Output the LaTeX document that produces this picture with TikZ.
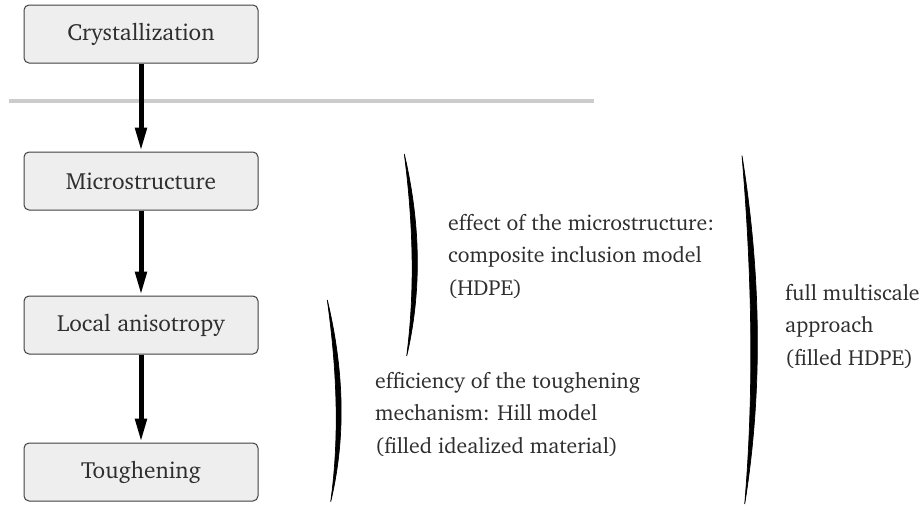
\documentclass[tikz,border=0pt]{standalone}
\usepackage[T1]{fontenc}
\usepackage{charter}
\usetikzlibrary{arrows.meta}
\definecolor{boxfill}{HTML}{EEEEEE}
\definecolor{boxline}{HTML}{404040}
\definecolor{rulegray}{HTML}{CCCCCC}
\definecolor{txt}{HTML}{2E2E2E}
\newcommand{\myparen}[6]{%
  \filldraw[line width=0.7pt] (#1,#2) .. controls ({#1+#5},{#2+(#4-#2)/3}) and ({#3+#5},{#4-(#4-#2)/3}) .. (#3,#4)
    .. controls ({#3+#6},{#4-(#4-#2)/3}) and ({#1+#6},{#2+(#4-#2)/3}) .. cycle;}
\begin{document}
\begin{tikzpicture}[x=1pt,y=-1pt,
  stage/.style={draw=boxline, line width=1pt, fill=boxfill, rounded corners=5pt,
    minimum width=234pt, minimum height=58pt, text=txt, inner sep=0pt,
    font=\fontsize{23.4}{28}\selectfont},
  flow/.style={line width=5pt, -{Triangle[length=24pt,width=11pt]}},
  note/.style={anchor=base west, align=left, inner sep=0pt, text=txt,
    font=\fontsize{21.8}{32.5}\selectfont}]
\useasboundingbox (0,0) rectangle (920,506);
\draw[rulegray, line width=4.5pt] (9,101) -- (594,101);
\node[stage] (c) at (141,34) {Crystallization};
\node[stage] (m) at (141,181) {Microstructure};
\node[stage] (l) at (141,325) {Local anisotropy};
\node[stage] (t) at (141,472) {Toughening};
\draw[flow] (c.south) -- (m.north);
\draw[flow] (m.south) -- (l.north);
\draw[flow] (l.south) -- (t.north);
\myparen{404.3}{154}{406.7}{356}{15.7}{8.7}
\myparen{327.3}{300}{330.7}{501.7}{16}{9.3}
\myparen{742}{155.7}{744.7}{504}{18.6}{9.8}
\node[note] (n1) at (448,295) {effect of the microstructure:\\composite inclusion model\\(HDPE)};
\node[note] (n2) at (375,453) {efficiency of the toughening\\mechanism: Hill model\\(filled idealized material)};
\node[note] (n3) at (785,365) {full multiscale\\approach\\(filled HDPE)};
\end{tikzpicture}
\end{document}
